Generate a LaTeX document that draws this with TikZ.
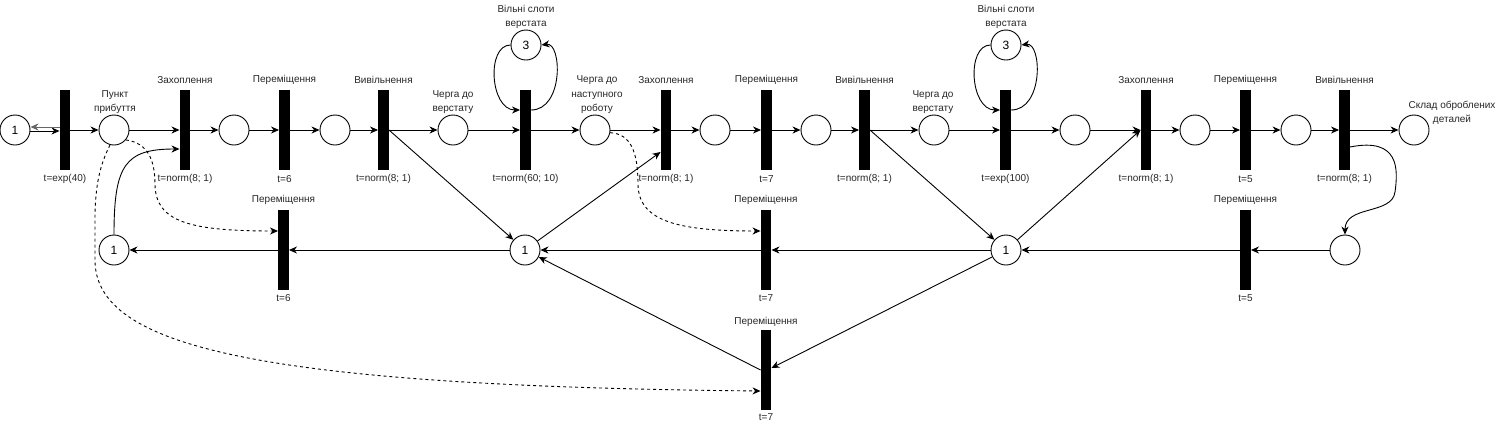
\documentclass[tikz,border=0pt]{standalone}
\usepackage{fontspec}
\setmainfont{Liberation Sans}
\usetikzlibrary{arrows.meta,calc}
\begin{document}
\begin{tikzpicture}[x=1pt,y=-1pt,
  tr/.style={fill=black,draw=none,minimum width=10.5pt,minimum height=80pt,inner sep=0pt},
  pl/.style={circle,draw=black,fill=white,line width=0.9pt,minimum size=30pt,inner sep=0pt,font=\fontsize{12}{12}\selectfont},
  lbl/.style={font=\fontsize{10}{14.5}\selectfont,align=center,inner sep=0pt,text=black!85},
  pnarc/.style={line width=0.9pt,-{Stealth[length=8pt,width=7pt,inset=2.5pt]}},
  dsh/.style={pnarc,dash pattern=on 3pt off 3pt}]
\useasboundingbox (0,0) rectangle (1501,432);
% transitions
\node[tr] (T1) at (65,130) {};
\node[tr] (T2) at (185,130) {};
\node[tr] (T3) at (284.5,130) {};
\node[tr] (T4) at (383.5,130) {};
\node[tr] (T5) at (525.5,130) {};
\node[tr] (T6) at (666,130) {};
\node[tr] (T7) at (766.5,130) {};
\node[tr] (T8) at (864.5,130) {};
\node[tr] (T9) at (1005.5,130) {};
\node[tr] (T10) at (1146,130) {};
\node[tr] (T11) at (1245.5,130) {};
\node[tr] (T12) at (1344.5,130) {};
\node[tr] (Mt1) at (283.5,250) {};
\node[tr] (Mt2) at (766,250) {};
\node[tr] (Mt3) at (1245.5,250) {};
\node[tr] (Bt) at (766,370) {};
% places
\node[pl] (P0) at (15,130) {1};
\node[pl] (P1) at (114,130) {};
\node[pl] (P2) at (234,130) {};
\node[pl] (P3) at (335,130) {};
\node[pl] (P4) at (453,130) {};
\node[pl] (P5) at (595,130) {};
\node[pl] (P6) at (715,130) {};
\node[pl] (P7) at (816,130) {};
\node[pl] (P8) at (934,130) {};
\node[pl] (P9) at (1075,130) {};
\node[pl] (P10) at (1195,130) {};
\node[pl] (P11) at (1296,130) {};
\node[pl] (P12) at (1414,130) {};
\node[pl] (S1) at (526,45) {3};
\node[pl] (S2) at (1006,45) {3};
\node[pl] (M1) at (114,250) {1};
\node[pl] (M2) at (525,250) {1};
\node[pl] (M3) at (1006,250) {1};
\node[pl] (M4) at (1345,250) {};
% labels above transitions
\node[lbl] (L2) at (185,80) {Захоплення};
\node[lbl] (L3) at (284.5,80) {Переміщення};
\node[lbl] (L4) at (383.5,80) {Вивільнення};
\node[lbl] (L6) at (666,80) {Захоплення};
\node[lbl] (L7) at (766.5,80) {Переміщення};
\node[lbl] (L8) at (864.5,80) {Вивільнення};
\node[lbl] (L10) at (1146,80) {Захоплення};
\node[lbl] (L11) at (1245.5,80) {Переміщення};
\node[lbl] (L12) at (1344.5,80) {Вивільнення};
\node[lbl] (LM1) at (283.5,200) {Переміщення};
\node[lbl] (LM2) at (766,200) {Переміщення};
\node[lbl] (LM3) at (1245.5,200) {Переміщення};
\node[lbl] (LB) at (766,322) {Переміщення};
% labels below transitions
\node[lbl] (D1) at (65,179) {t=exp(40)};
\node[lbl] (D2) at (185,179) {t=norm(8; 1)};
\node[lbl] (D3) at (284.5,179) {t=6};
\node[lbl] (D4) at (383.5,179) {t=norm(8; 1)};
\node[lbl] (D5) at (525.5,179) {t=norm(60; 10)};
\node[lbl] (D6) at (666,179) {t=norm(8; 1)};
\node[lbl] (D7) at (766.5,179) {t=7};
\node[lbl] (D8) at (864.5,179) {t=norm(8; 1)};
\node[lbl] (D9) at (1005.5,179) {t=exp(100)};
\node[lbl] (D10) at (1146,179) {t=norm(8; 1)};
\node[lbl] (D11) at (1245.5,179) {t=5};
\node[lbl] (D12) at (1344.5,179) {t=norm(8; 1)};
\node[lbl] (DM1) at (283.5,298) {t=6};
\node[lbl] (DM2) at (766,298) {t=7};
\node[lbl] (DM3) at (1245.5,298) {t=5};
\node[lbl] (DB) at (766,417) {t=7};
% place labels
\node[lbl] (LP1) at (115,102) {Пункт\\прибуття};
\node[lbl] (LP4) at (453,102) {Черга до\\верстату};
\node[lbl] (LP5) at (597,95) {Черга до\\наступного\\роботу};
\node[lbl] (LP8) at (933,102) {Черга до\\верстату};
\node[lbl] (LP12) at (1452,113) {Склад оброблених\\деталей};
\node[lbl] (LS1) at (526,17) {Вільні слоти\\верстата};
\node[lbl] (LS2) at (1006,17) {Вільні слоти\\верстата};
% top chain
\draw[pnarc] ($(P0.east)+(0,1)$) -- ($(T1.west)+(0,1)$);
\draw[pnarc,draw=black!60] ($(T1.west)+(0,-3)$) -- ($(P0.east)+(0,-3)$);
\draw[pnarc] (T1.east) -- (P1);
\draw[pnarc] (P1) -- (T2.west);
\draw[pnarc] (T2.east) -- (P2);
\draw[pnarc] (P2) -- (T3.west);
\draw[pnarc] (T3.east) -- (P3);
\draw[pnarc] (P3) -- (T4.west);
\draw[pnarc] (T4.east) -- (P4);
\draw[pnarc] (P4) -- (T5.west);
\draw[pnarc] (T5.east) -- (P5);
\draw[pnarc] (P5) -- (T6.west);
\draw[pnarc] (T6.east) -- (P6);
\draw[pnarc] (P6) -- (T7.west);
\draw[pnarc] (T7.east) -- (P7);
\draw[pnarc] (P7) -- (T8.west);
\draw[pnarc] (T8.east) -- (P8);
\draw[pnarc] (P8) -- (T9.west);
\draw[pnarc] (T9.east) -- (P9);
\draw[pnarc] (P9) -- (T10.west);
\draw[pnarc] (T10.east) -- (P10);
\draw[pnarc] (P10) -- (T11.west);
\draw[pnarc] (T11.east) -- (P11);
\draw[pnarc] (P11) -- (T12.west);
\draw[pnarc] (T12.east) -- (P12);
% slot loops
\draw[pnarc] (S1.west) .. controls (486,45) and (490,110) .. ($(T5.west)+(0,-20)$);
\draw[pnarc] ($(T5.east)+(0,-20)$) .. controls (564,110) and (562,42) .. (S1.east);
\draw[pnarc] (S2.west) .. controls (966,45) and (970,110) .. ($(T9.west)+(0,-20)$);
\draw[pnarc] ($(T9.east)+(0,-20)$) .. controls (1044,110) and (1042,42) .. (S2.east);
% resource places
\draw[pnarc] (T4.east) -- (M2);
\draw[pnarc] (M2) -- ($(T6.west)+(0,22)$);
\draw[pnarc] (T8.east) -- (M3);
\draw[pnarc] (M3) -- (T10.west);
\draw[pnarc] (M1.north) .. controls (114,165) and (125,149) .. ($(T2.west)+(0,19)$);
% middle row
\draw[pnarc] (Mt1.west) -- (M1);
\draw[pnarc] (M2) -- (Mt1.east);
\draw[pnarc] (Mt2.west) -- (M2);
\draw[pnarc] (M3) -- (Mt2.east);
\draw[pnarc] (Mt3.west) -- (M3);
\draw[pnarc] (M4) -- (Mt3.east);
\draw[pnarc] ($(T12.east)+(0,17)$) .. controls (1400,137) and (1398,170) .. (1395,192) .. controls (1392,215) and (1345,205) .. (M4.north);
% bottom transition
\draw[pnarc] (M3) -- ($(Bt.east)+(0,-2)$);
\draw[pnarc] (Bt.west) -- (M2);
% dashed arcs
\draw[dsh] (P1.-40) .. controls (148,143) and (155,160) .. (155,185) .. controls (156,222) and (190,231) .. ($(Mt1.west)+(0,-19)$);
\draw[dsh] (P5.-10) .. controls (630,134) and (638,150) .. (638,185) .. controls (639,222) and (680,231) .. ($(Mt2.west)+(0,-19)$);
\draw[dsh] (P1.-105) .. controls (100,165) and (95,185) .. (95,220) -- (95,260) .. controls (95,345) and (250,386) .. ($(Bt.west)+(0,21)$);
\end{tikzpicture}
\end{document}
